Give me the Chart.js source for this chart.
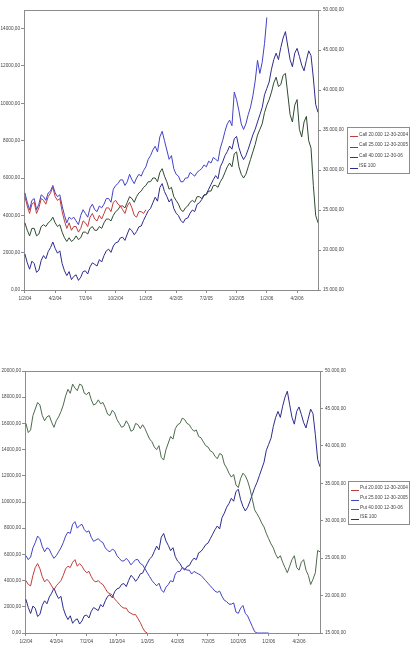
<!DOCTYPE html>
<html>
<head>
<meta charset="utf-8">
<script src="https://cdn.jsdelivr.net/npm/chart.js@4.4.0/dist/chart.umd.min.js"></script>
<style>
    html, body { margin: 0; padding: 0; background: #fff; }
    body { width: 411px; height: 660px; position: relative; overflow: hidden; }
    canvas { position: absolute; left: 0; }
    #callChart { top: 0; }
    #putChart { top: 320px; }
</style>
</head>
<body>
<canvas id="callChart" width="411" height="320"></canvas>
<canvas id="putChart" width="411" height="340"></canvas>
<script>
// one value a week, the first one on 1/2/04
const WEEK_STEP = 1;
const WEEKS_PER_TICK = 13;

const xTickLabels = ["1/2/04", "4/2/04", "7/2/04", "10/2/04", "1/2/05", "4/2/05", "7/2/05", "10/2/05", "1/2/06", "4/2/06"];
const callLeftTicks = [0, 2000, 4000, 6000, 8000, 10000, 12000, 14000];
const putLeftTicks = [0, 2000, 4000, 6000, 8000, 10000, 12000, 14000, 16000, 18000, 20000];
const iseTicks = [15000, 20000, 25000, 30000, 35000, 40000, 45000, 50000];

const callLabels = ["Call 20.000 12-30-2004", "Call 25.000 12-30-2005", "Call 40.000 12-30-06", "ISE 100"];
const putLabels = ["Put 20.000 12-30-2004", "Put 25.000 12-30-2005", "Put 40.000 12-30-06", "ISE 100"];

// ISE 100 index (right axis), shared by both charts
const ise100 = [
    19500, 18400, 17600, 18600, 18300, 17200, 17500, 18700, 19300, 18900,
    19800, 20300, 21000, 20200, 19600, 19900, 18300, 17400, 16800, 17300,
    16300, 16700, 16900, 16200, 16600, 17300, 17400, 17000, 17900, 18400,
    18200, 18000, 18800, 18500, 19300, 19900, 20100, 19700, 20500, 20900,
    21000, 21500, 21600, 21200, 22000, 22700, 22400, 21900, 22300, 22900,
    23000, 23700, 24300, 24900, 25200, 25900, 26600, 26100, 27800, 28300,
    27300, 26700, 26000, 26400, 25200, 24600, 24300, 23700, 23400, 23900,
    24000, 24600, 25000, 24800, 25700, 25900, 26300, 26800, 27000, 27600,
    28200, 28800, 29300, 28900, 30400, 31000, 31800, 32300, 33000, 32600,
    33900, 34200, 32800, 31900, 31300, 31800, 32600, 33500, 34400, 35100,
    36000, 36900, 37800, 39400, 40200, 41000, 42600, 43800, 44600, 43800,
    45300, 46500, 47300, 45500, 43800, 42900, 44600, 45200, 44200, 43100,
    42400, 43700, 44900, 44300, 41500, 38200, 37200];

const call20 = [
    5000, 4500, 4100, 4600, 4700, 4100, 4400, 4900, 4800, 4600,
    5000, 5200, 5500, 5000, 4800, 4900, 4200, 3700, 3300, 3600,
    3200, 3400, 3400, 3100, 3300, 3700, 3600, 3400, 3900, 4100,
    3800, 3700, 4000, 3800, 4100, 4400, 4400, 4200, 4700, 4800,
    4600, 4500, 4300, 4100, 4500, 4700, 4400, 4000, 3900, 4200,
    4200, 4100, 4300];

const call25 = [
    5200, 4700, 4300, 4800, 4900, 4300, 4600, 5100, 5000, 4800,
    5200, 5300, 5600, 5200, 5000, 5100, 4500, 4000, 3600, 3900,
    3800, 3900, 3700, 3500, 4000, 4300, 4100, 3900, 4400, 4600,
    4300, 4200, 4500, 4400, 4600, 4900, 4900, 4700, 5400, 5600,
    5700, 5900, 5900, 5600, 5800, 6200, 5900, 5700, 6000, 6200,
    6100, 6400, 6600, 7000, 7200, 7500, 7700, 7400, 8200, 8500,
    8000, 7500, 7000, 7200, 6500, 6200, 6100, 5800, 5800, 6000,
    6000, 6300, 6200, 6100, 6300, 6400, 6500, 6700, 6600, 6900,
    6800, 7100, 7000, 6900, 7600, 8000, 8500, 8900, 9100, 8800,
    10600, 10200, 9600, 8900, 8600, 8900, 9400, 9800, 10400, 11200,
    12300, 11600, 12200, 13200, 14600];

const call40 = [
    3600, 3200, 2900, 3300, 3300, 2900, 3000, 3400, 3500, 3400,
    3600, 3700, 3900, 3600, 3400, 3500, 3100, 2800, 2600, 2800,
    2600, 2700, 2900, 2700, 2800, 3100, 3100, 3000, 3300, 3400,
    3200, 3200, 3400, 3300, 3600, 3800, 3800, 3700, 4000, 4200,
    4300, 4500, 4500, 4400, 4700, 5000, 4900, 4700, 5000, 5200,
    5300, 5500, 5600, 5800, 5800, 6000, 6000, 5800, 6300, 6500,
    6100, 5800, 5400, 5500, 5000, 4800, 4600, 4300, 4200, 4400,
    4500, 4700, 4800, 4700, 5000, 5000, 4900, 5100, 5100, 5300,
    5300, 5600, 5600, 5500, 5800, 6000, 6300, 6600, 6800, 6600,
    7300, 7400, 6600, 6200, 6000, 6200, 6600, 7000, 7400, 7800,
    8300, 8600, 8900, 9500, 9900, 10200, 10600, 11100, 11400, 10900,
    11000, 11500, 11600, 10500, 9400, 9000, 9900, 10200, 8600, 8200,
    9000, 9300, 8000, 7600, 5600, 4000, 3600];

const put20 = [
    4000, 3700, 3600, 4400, 5000, 5300, 4900, 4300, 3900, 4100,
    3900, 3600, 3300, 3600, 3800, 4000, 4400, 4900, 5100, 5000,
    5400, 5600, 5100, 5300, 5100, 4800, 4600, 4700, 4300, 4000,
    3900, 4000, 3800, 3700, 3400, 3100, 3000, 2900, 2600, 2400,
    2200, 2000, 1900, 1900, 1600, 1500, 1400, 1400, 1100, 800,
    400, 100, 0];

const put25 = [
    5900, 5600, 5800, 6500, 6900, 7400, 7200, 6600, 6200, 6500,
    6400, 6000, 5700, 5900, 6200, 6500, 6900, 7400, 7700, 7600,
    8300, 8500, 8000, 8200, 8300, 7900, 7700, 7800, 7300, 7000,
    7100, 7200, 7000, 6900, 6500, 6300, 6200, 6400, 6300, 5900,
    5700, 5500, 5500, 5700, 5500, 5200, 5400, 5600, 5600, 5300,
    5200, 4900, 4600, 4300, 4000, 3800, 3600, 3800, 3300, 3100,
    3500, 3700, 4000, 3900, 4500, 4700, 4700, 5000, 4900, 4800,
    4800, 4500, 4700, 4600, 4500, 4400, 4200, 4000, 3800, 3600,
    3400, 3200, 3100, 3200, 2800, 2500, 2400, 2200, 2200, 2300,
    1600, 1500, 1900, 2100, 1500, 1300, 900, 500, 100, 0,
    0, 0, 0, 0, 0];

const put40 = [
    16000, 15300, 15500, 16600, 17100, 17600, 17400, 16600, 16200, 16500,
    16600, 16100, 15700, 16200, 16500, 16900, 17400, 18100, 18600, 18300,
    19000, 18700, 18500, 19000, 18900, 18300, 18200, 18400, 17800, 17400,
    17500, 17800, 17500, 17600, 17200, 16700, 16600, 17000, 16800, 16300,
    16000, 15700, 15800, 16200, 15900, 15400, 15500, 16000, 15900, 15600,
    15900, 15600, 15200, 14800, 14600, 14200, 14000, 14300, 13400, 13200,
    14000, 14500, 15000, 14800, 15600, 15900, 16000, 16400, 16300, 16000,
    15900, 15600, 15400, 15500, 15000, 14900, 14600, 14300, 14200, 13900,
    13800, 13500, 13300, 13700, 13600, 12900, 12600, 12200, 11900, 12100,
    11300, 11100, 11800, 12200, 12000, 11600, 11000, 10200, 9400, 9100,
    8800, 8400, 8100, 7600, 7200, 6800, 6500, 6000, 5700, 5900,
    5400, 5000, 4600, 5100, 5600, 5900, 5000, 4800, 5400, 5600,
    4800, 4400, 3700, 4100, 4600, 6300, 6200];

const AXIS = "#8c8c8c";
const TEXT = "#444";
const RED = "#c03c3c";
const BLUE = "#4242c8";
const NAVY = "#2c2c8e";
const DARK_GREEN = "#2f4a2f";
const GREEN = "#4d6a4d";

Chart.defaults.font.family = '"Liberation Sans", Arial, sans-serif';
Chart.defaults.font.size = 4.7;
Chart.defaults.color = TEXT;

const toPoints = values => values.map((v, i) => ({ x: i * WEEK_STEP, y: v }));

const leftFormat = v => v.toFixed(2).replace(".", ",");
const rightFormat = v => v.toLocaleString("de-DE", { minimumFractionDigits: 2, maximumFractionDigits: 2 });

// top edge of the plot area and the boxed legend on the right
const plotFrame = {
    id: "plotFrame",
    afterDraw(chart, args, opts) {
        const ctx = chart.ctx;
        const a = chart.chartArea;
        ctx.save();
        ctx.strokeStyle = AXIS;
        ctx.lineWidth = 1;
        ctx.beginPath();
        ctx.moveTo(a.left, Math.round(a.top) + 0.5);
        ctx.lineTo(a.right, Math.round(a.top) + 0.5);
        ctx.stroke();

        const n = chart.data.datasets.length;
        const h = n * opts.rowHeight + 4;
        const left = Math.round(a.right + opts.offsetX);
        const top = Math.round((a.top + a.bottom) / 2 - h / 2);
        ctx.strokeRect(left + 0.5, top + 0.5, opts.width, Math.round(h));

        ctx.font = '4.7px "Liberation Sans", Arial, sans-serif';
        ctx.textBaseline = "middle";
        ctx.textAlign = "left";
        chart.data.datasets.forEach((ds, i) => {
            const y = top + 2 + opts.rowHeight * (i + 0.5);
            ctx.strokeStyle = ds.borderColor;
            ctx.beginPath();
            ctx.moveTo(left + 3, Math.round(y) + 2.5);
            ctx.lineTo(left + 11, Math.round(y) + 2.5);
            ctx.stroke();
            ctx.fillStyle = TEXT;
            ctx.fillText(ds.label, left + 12, y);
        });
        ctx.restore();
    }
};

function makeOptions(leftTicks, leftMax, pad, sizes, legend) {
    return {
        responsive: false,
        animation: false,
        devicePixelRatio: 1,
        layout: { padding: pad },
        elements: {
            point: { radius: 0 },
            line: { borderWidth: 1, tension: 0 }
        },
        plugins: {
            legend: { display: false },
            tooltip: { enabled: false },
            plotFrame: legend
        },
        scales: {
            x: {
                type: "linear",
                min: -0.4,
                max: 126,
                grid: { drawOnChartArea: false, tickLength: 3, color: AXIS },
                border: { color: AXIS },
                afterBuildTicks: s => { s.ticks = xTickLabels.map((_, i) => ({ value: i * WEEKS_PER_TICK })); },
                afterFit: s => { s.height = sizes.xHeight; },
                ticks: {
                    autoSkip: false,
                    maxRotation: 0,
                    padding: 3,
                    callback: (v, i) => xTickLabels[i]
                }
            },
            y: {
                position: "left",
                min: 0,
                max: leftMax,
                grid: { drawOnChartArea: false, tickLength: 3, color: AXIS },
                border: { color: AXIS },
                afterBuildTicks: s => { s.ticks = leftTicks.map(v => ({ value: v })); },
                afterFit: s => { s.width = sizes.leftWidth; },
                ticks: { padding: 1, callback: v => leftFormat(v) }
            },
            y1: {
                position: "right",
                min: 15000,
                max: 50000,
                grid: { drawOnChartArea: false, tickLength: 3, color: AXIS },
                border: { color: AXIS },
                afterBuildTicks: s => { s.ticks = iseTicks.map(v => ({ value: v })); },
                afterFit: s => { s.width = sizes.rightWidth; },
                ticks: { padding: 2, callback: v => rightFormat(v) }
            }
        }
    };
}

new Chart(document.getElementById("callChart"), {
    type: "line",
    data: {
        datasets: [
            { label: callLabels[0], data: toPoints(call20), borderColor: RED, yAxisID: "y" },
            { label: callLabels[1], data: toPoints(call25), borderColor: BLUE, yAxisID: "y" },
            { label: callLabels[2], data: toPoints(call40), borderColor: DARK_GREEN, yAxisID: "y" },
            { label: callLabels[3], data: toPoints(ise100), borderColor: NAVY, yAxisID: "y1" }
        ]
    },
    options: makeOptions(callLeftTicks, 15000,
        { top: 10, left: 0, right: 63, bottom: 0 },
        { xHeight: 30, leftWidth: 24, rightWidth: 30 },
        { offsetX: 29, width: 62, rowHeight: 10.5 }),
    plugins: [plotFrame]
});

new Chart(document.getElementById("putChart"), {
    type: "line",
    data: {
        datasets: [
            { label: putLabels[0], data: toPoints(put20), borderColor: RED, yAxisID: "y" },
            { label: putLabels[1], data: toPoints(put25), borderColor: BLUE, yAxisID: "y" },
            { label: putLabels[2], data: toPoints(put40), borderColor: GREEN, yAxisID: "y" },
            { label: putLabels[3], data: toPoints(ise100), borderColor: NAVY, yAxisID: "y1" }
        ]
    },
    options: makeOptions(putLeftTicks, 20000,
        { top: 51, left: 0, right: 61, bottom: 0 },
        { xHeight: 27, leftWidth: 25, rightWidth: 30 },
        { offsetX: 28, width: 61, rowHeight: 9.75 }),
    plugins: [plotFrame]
});
</script>
</body>
</html>
